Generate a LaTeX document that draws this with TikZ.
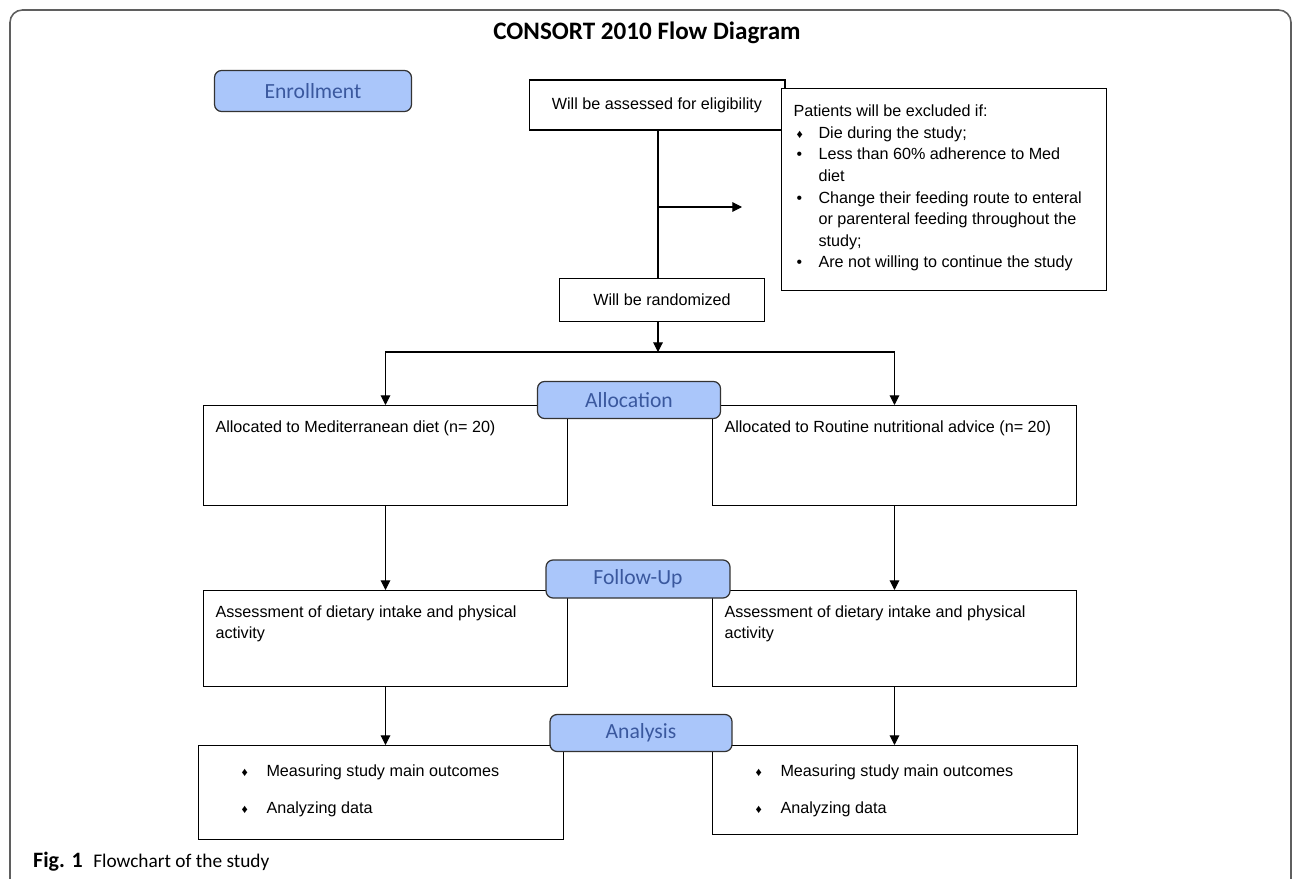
\documentclass[tikz,border=0pt]{standalone}
\usepackage{fontspec}
\setmainfont{Liberation Sans}
\newfontfamily\labelfont{Carlito}
\usetikzlibrary{arrows.meta}

\definecolor{stagefill}{RGB}{170,198,250}
\definecolor{stagetext}{RGB}{58,88,158}
\definecolor{framegray}{RGB}{95,95,95}

% bullets as in the source
\newcommand{\dia}{{\fontsize{7}{7}\selectfont ♦}}
\newcommand{\bul}{{\fontsize{9}{9}\selectfont •}}

\begin{document}
\begin{tikzpicture}[
x=0.02cm, y=-0.02cm,
every node/.style={
font=\fontsize{9.2}{12.3}\selectfont
},
stepbox/.style={
draw,
line width=0.6pt,
inner sep=0pt
},
textbox/.style={
stepbox,
anchor=north west,
inner xsep=0.24cm,
inner ysep=0.3cm,
align=left
},
stage/.style={
draw=black!80,
line width=0.7pt,
fill=stagefill,
rounded corners=4pt,
text=stagetext,
font=\labelfont\fontsize{12.3}{14}\selectfont,
minimum height=0.76cm
},
arr/.style={
-{Triangle[length=5.5pt,width=5.5pt]},
line width=0.6pt
}
]

\useasboundingbox (0,0) rectangle (1295,879);

% frame, open at the bottom
\begin{scope}
\clip (0,0) rectangle (1295,879);
\draw[framegray, line width=0.9pt, rounded corners=7pt] (10,900) -- (10,10) -- (1291,10) -- (1291,900);
\end{scope}

\node[font=\labelfont\bfseries\fontsize{14.3}{16}\selectfont] (title) at (647,33) {CONSORT 2010 Flow Diagram};

% enrollment
\node[stepbox, minimum width=5.12cm, minimum height=1cm] (elig) at (657,105) {Will be assessed for eligibility};
\node[textbox, fill=white, minimum width=6.5cm, inner ysep=0.26cm] (excl) at (781,88) {%
\parbox[t][3.52cm][t]{6.02cm}{%
\renewcommand{\arraystretch}{1}%
\begin{tabular}{@{}p{0.5cm}@{}p{5.5cm}@{}}
\multicolumn{2}{@{}l}{Patients will be excluded if:}\\
\hspace{0.06cm}\dia & Die during the study;\\
\hspace{0.06cm}\bul & Less than 60\% adherence to Med\newline diet\\
\hspace{0.06cm}\bul & Change their feeding route to enteral\newline or parenteral feeding throughout the\newline study;\\
\hspace{0.06cm}\bul & Are not willing to continue the study
\end{tabular}}};
\node[stepbox, minimum width=4.1cm, minimum height=0.86cm] (rand) at (662,300) {Will be randomized};

\coordinate (exclin) at (742,207);
\coordinate (split) at (658,352);

% allocation
\node[textbox] (medA) at (203,405) {\parbox[t][1.4cm][t]{6.8cm}{Allocated to Mediterranean diet (n= 20)}};
\node[textbox] (rouA) at (712,405) {\parbox[t][1.4cm][t]{6.8cm}{Allocated to Routine nutritional advice (n= 20)}};

% follow-up
\node[textbox] (medB) at (203,590) {\parbox[t][1.32cm][t]{6.8cm}{Assessment of dietary intake and physical\\activity}};
\node[textbox] (rouB) at (712,590) {\parbox[t][1.32cm][t]{6.8cm}{Assessment of dietary intake and physical\\activity}};

% analysis
\node[textbox, inner xsep=0.86cm, inner ysep=0.32cm] (medC) at (198,745) {%
\parbox[t][1.24cm][t]{5.58cm}{%
\begin{tabular}{@{}p{0.5cm}@{}l@{}}
\dia & Measuring study main outcomes\\[8.5pt]
\dia & Analyzing data
\end{tabular}}};
\node[textbox, inner xsep=0.86cm, inner ysep=0.32cm] (rouC) at (712,745) {%
\parbox[t][1.14cm][t]{5.58cm}{%
\begin{tabular}{@{}p{0.5cm}@{}l@{}}
\dia & Measuring study main outcomes\\[8.5pt]
\dia & Analyzing data
\end{tabular}}};

\draw[line width=0.6pt] (elig.south -| split) -- (split |- rand.north);
\draw[arr] (split |- exclin) -- (exclin);
\draw[arr] (split |- rand.south) -- (split);
\draw[arr] (split) -| (medA.north);
\draw[arr] (split) -| (rouA.north);
\draw[arr] (medA.south) -- (medB.north);
\draw[arr] (rouA.south) -- (rouB.north);
\draw[arr] (medB.south) -- (medB.south |- medC.north);
\draw[arr] (rouB.south) -- (rouB.south |- rouC.north);

% stage labels
\node[stage, minimum width=3.94cm, minimum height=0.82cm] (enrol) at (313,91) {Enrollment};
\node[stage, minimum width=3.66cm, minimum height=0.74cm] (alloc) at (629,400) {Allocation};
\node[stage, minimum width=3.68cm] (follow) at (638,579) {Follow-Up};
\node[stage, minimum width=3.64cm, minimum height=0.74cm] (anal) at (641,733) {Analysis};

\node[anchor=base west, font=\labelfont\fontsize{11}{13}\selectfont] (cap) at (27,867) {{\fontsize{12.5}{13}\selectfont\textbf{Fig. 1}}\hspace{6pt}Flowchart of the study};

\end{tikzpicture}
\end{document}
